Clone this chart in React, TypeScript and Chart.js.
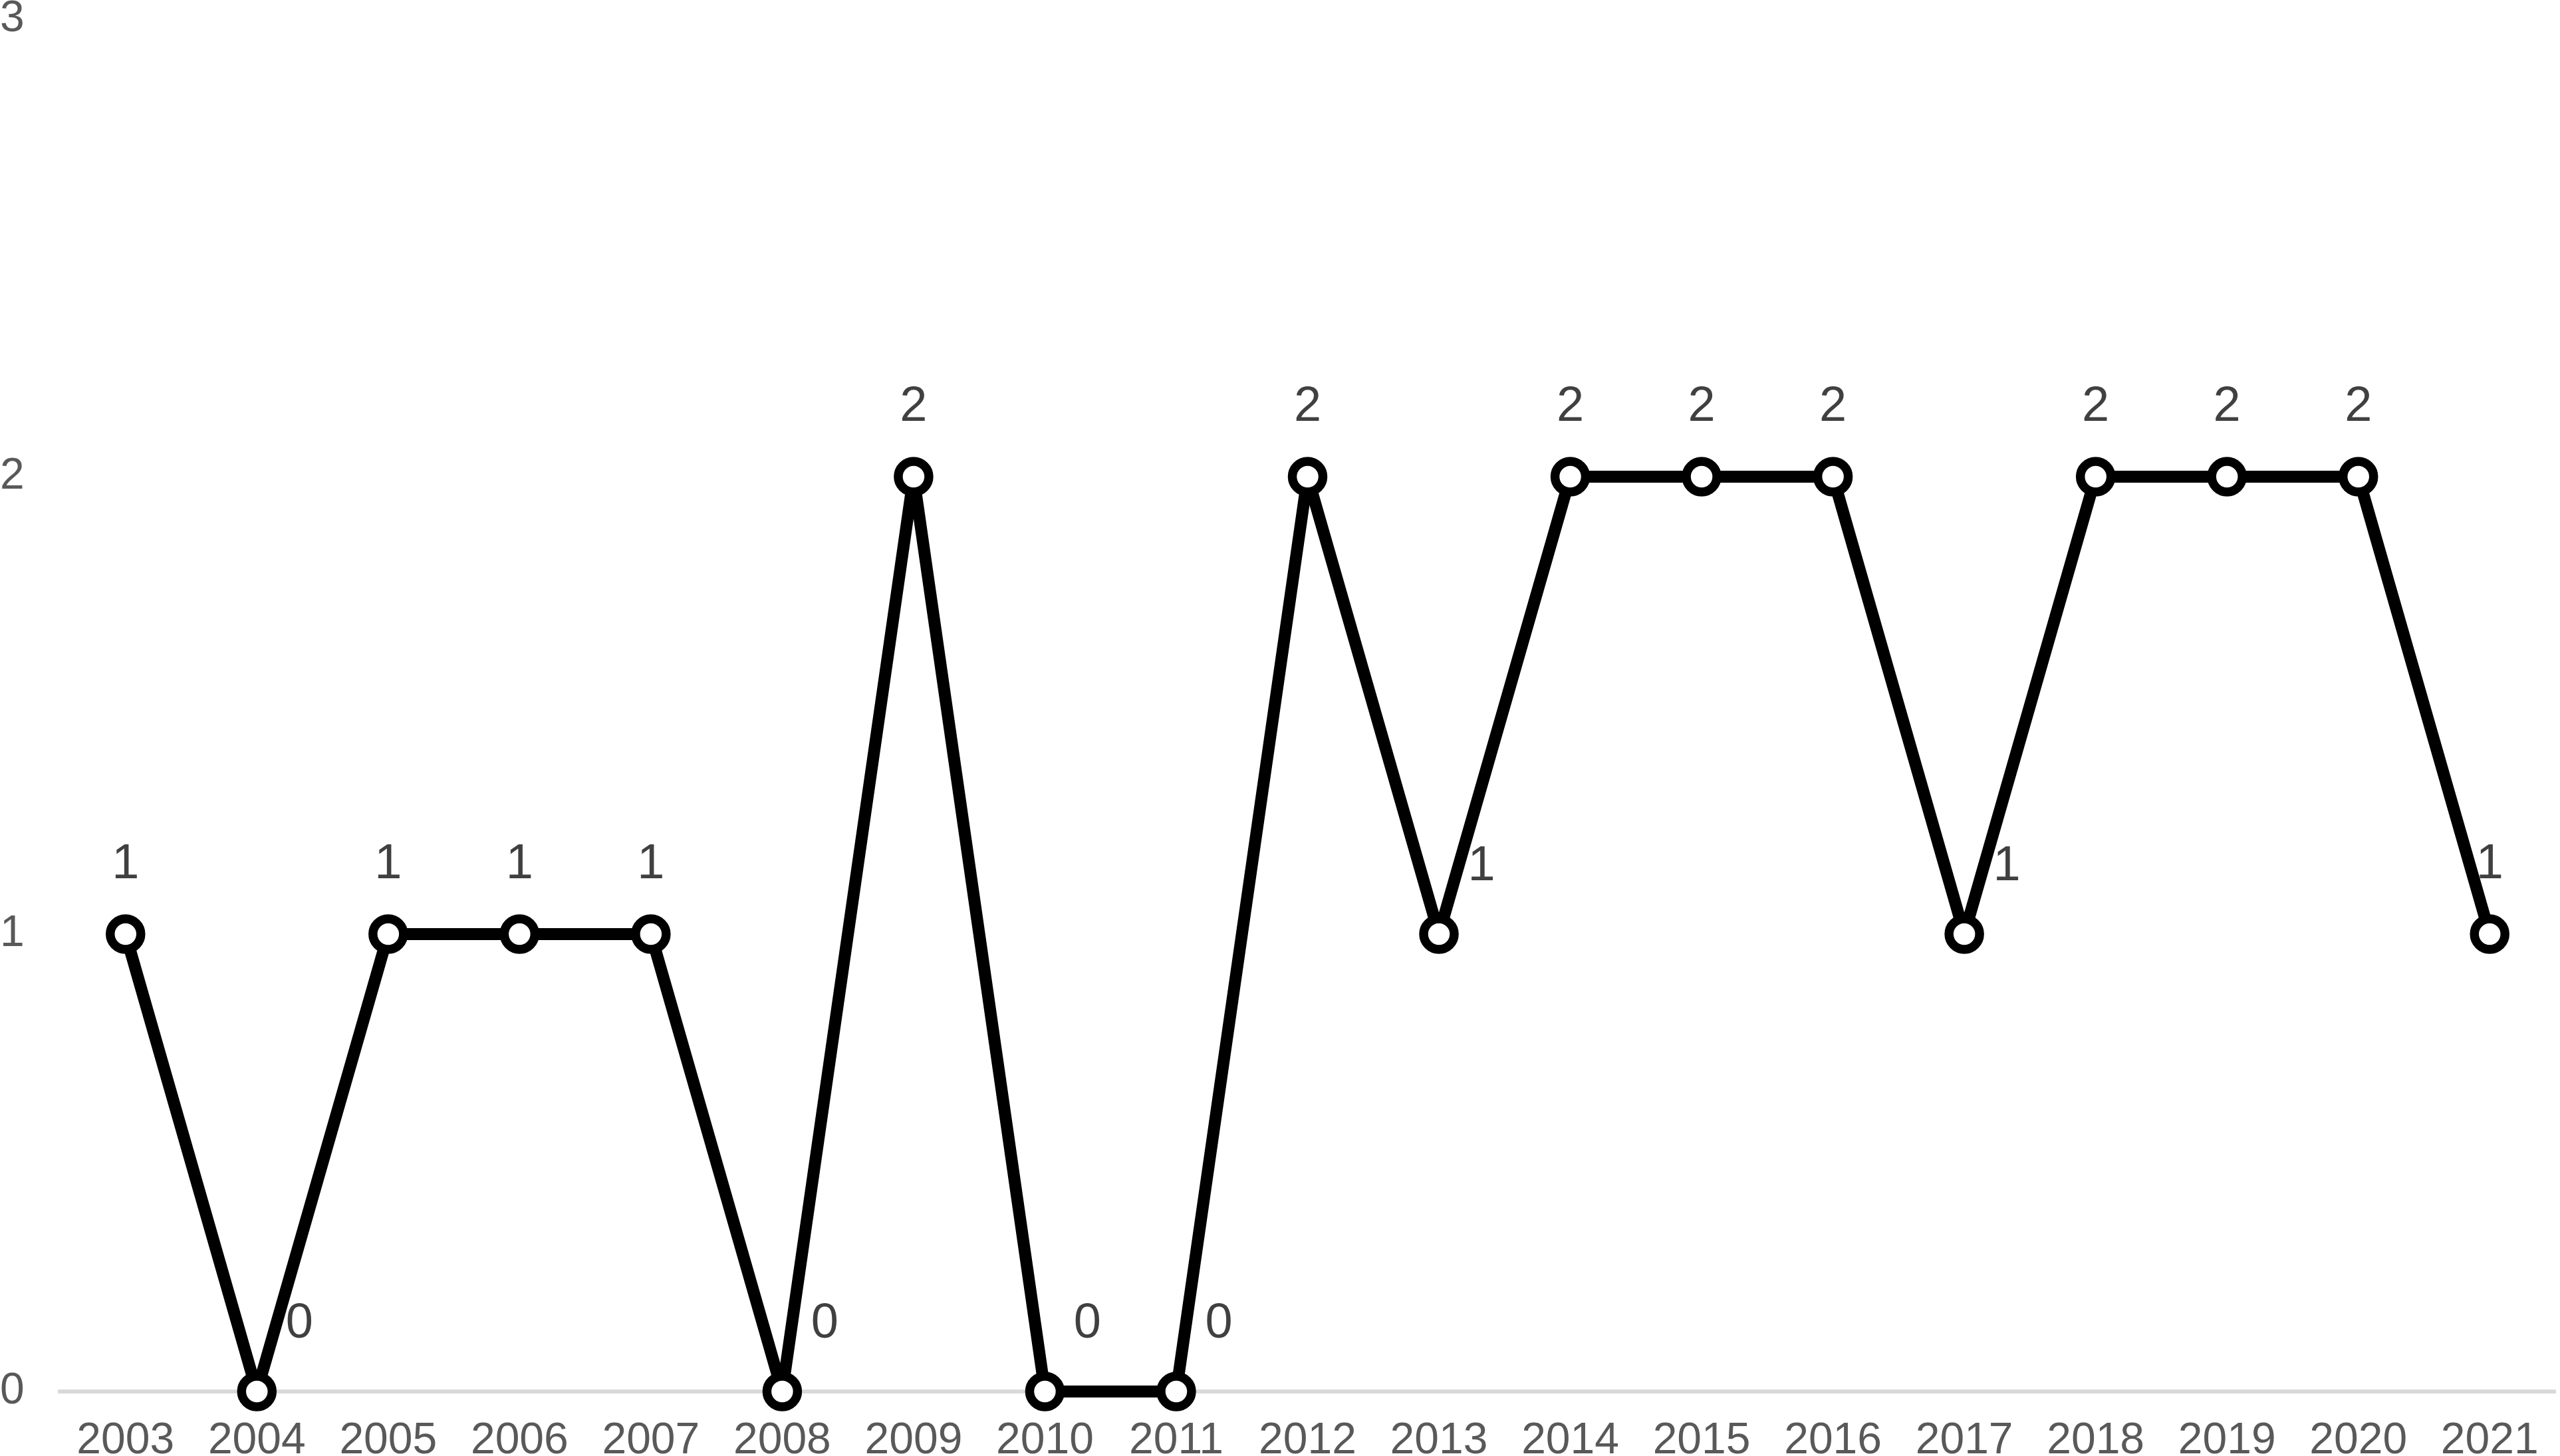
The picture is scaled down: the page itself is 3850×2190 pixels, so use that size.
import React, { useEffect, useRef } from "react";
import { Chart, registerables } from "chart.js";

Chart.register(...registerables);

const years = ["2003","2004","2005","2006","2007","2008","2009","2010","2011","2012","2013","2014","2015","2016","2017","2018","2019","2020","2021"];
const counts = [1,0,1,1,1,0,2,0,0,2,1,2,2,2,1,2,2,2,1];
const yTicks = [0, 1, 2, 3];

const FONT = "'Liberation Sans', Arial, sans-serif";

// Stop the big markers from adding extra padding around the chart area
const noOverflowPlugin = {
  id: "noOverflow",
  beforeElementsUpdate(chart: any) {
    chart.data.datasets.forEach((_: any, i: number) => {
      const meta = chart.getDatasetMeta(i);
      if (meta && meta.controller) meta.controller.getMaxOverflow = () => false;
    });
  },
};

const labelPlugin = {
  id: "pointLabels",
  afterDatasetsDraw(chart: any) {
    const ctx = chart.ctx;
    const meta = chart.getDatasetMeta(0);
    const data = chart.data.datasets[0].data as number[];
    ctx.save();
    ctx.font = `74px ${FONT}`;
    ctx.fillStyle = "#404040";
    ctx.textAlign = "center";
    ctx.textBaseline = "middle";
    meta.data.forEach((pt: any, i: number) => {
      const v = data[i];
      let isValley = false;
      if (i > 0 && i < data.length - 1) {
        const prev = data[i - 1];
        const next = data[i + 1];
        isValley = (v < prev && v <= next) || (v <= prev && v < next);
      }
      let x = pt.x;
      let y = pt.y - 104;
      if (isValley) {
        x = pt.x + 64;
        y = pt.y - 101;
      }
      ctx.fillText(String(v), x, y);
    });
    ctx.restore();
  },
};

export default function App() {
  const ref = useRef<HTMLCanvasElement | null>(null);
  useEffect(() => {
    document.body.style.margin = "0";
    const chart = new Chart(ref.current as HTMLCanvasElement, {
      type: "line",
      data: {
        labels: years,
        datasets: [
          {
            data: counts,
            borderColor: "#000000",
            borderWidth: 18,
            borderJoinStyle: "round",
            borderCapStyle: "round",
            pointRadius: 23,
            pointHoverRadius: 23,
            pointBorderWidth: 13.5,
            pointBackgroundColor: "#ffffff",
            pointBorderColor: "#000000",
            tension: 0,
            fill: false,
            clip: false,
          } as any,
        ],
      },
      options: {
        animation: false,
        responsive: false,
        maintainAspectRatio: false,
        events: [],
        layout: { padding: { top: 29, right: 7, left: 0, bottom: 0 } },
        plugins: { legend: { display: false }, tooltip: { enabled: false } },
        scales: {
          x: {
            type: "category",
            offset: true,
            grid: { display: false, drawTicks: false },
            border: { display: true, color: "#d9d9d9", width: 6 },
            ticks: {
              color: "#595959",
              font: { family: FONT, size: 66, lineHeight: 2.27 },
              padding: 0,
              maxRotation: 0,
              autoSkip: false,
            },
            afterFit(scale: any) {
              scale.height = 97;
            },
          },
          y: {
            min: 0,
            max: 3,
            afterBuildTicks(scale: any) {
              scale.ticks = yTicks.map((v) => ({ value: v }));
            },
            grid: { display: false, drawTicks: false },
            border: { display: false },
            ticks: {
              color: "#595959",
              font: { family: FONT, size: 66, lineHeight: 0.8 },
              crossAlign: "far",
              padding: 0,
            },
            afterFit(scale: any) {
              scale.width = 90;
            },
          },
        },
      },
      plugins: [noOverflowPlugin, labelPlugin],
    });
    return () => chart.destroy();
  }, []);
  return <canvas ref={ref} width={3850} height={2190} style={{ display: "block" }} />;
}
